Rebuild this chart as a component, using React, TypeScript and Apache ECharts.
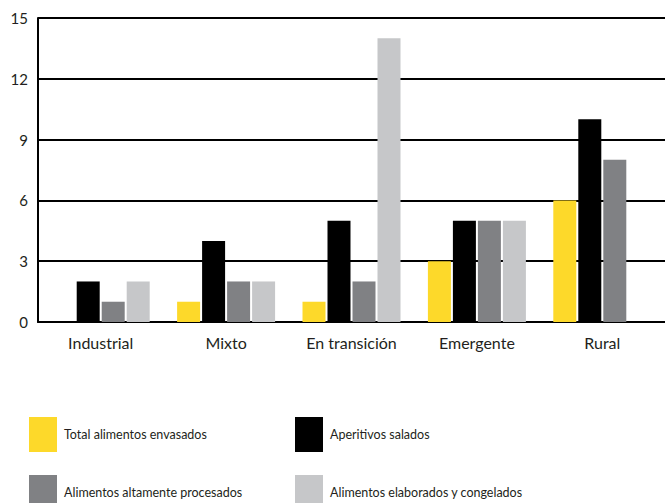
import React, { useEffect, useRef } from "react";
import * as echarts from "echarts";

const categories = ["Industrial", "Mixto", "En transición", "Emergente", "Rural"];
const seriesNames = [
  "Total alimentos envasados",
  "Aperitivos salados",
  "Alimentos altamente procesados",
  "Alimentos elaborados y congelados",
];
const envasados = [0, 1, 1, 3, 6];
const aperitivos = [2, 4, 5, 5, 10];
const procesados = [1, 2, 2, 5, 8];
const congelados = [2, 2, 14, 5, 0];
const colors = ["#FDD92A", "#000000", "#808184", "#C6C7C9"];
const yTicks = { min: 0, max: 15, interval: 3 };

export default function App() {
  const ref = useRef<HTMLDivElement>(null);
  useEffect(() => {
    if (!ref.current) return;
    const chart = echarts.init(ref.current, null, { renderer: "svg" });
    const font = "Lato, 'Open Sans', sans-serif";
    const values = [envasados, aperitivos, procesados, congelados];
    const legendPos = [
      { left: 29, top: 417 },
      { left: 295, top: 417 },
      { left: 29, top: 475 },
      { left: 295, top: 475 },
    ];
    chart.setOption({
      animation: false,
      textStyle: { fontFamily: font },
      grid: { left: 38, right: 0, top: 18, bottom: 181 },
      xAxis: {
        type: "category",
        data: categories,
        axisLine: { lineStyle: { color: "#000", width: 2 } },
        axisTick: { show: false },
        axisLabel: { color: "#231f20", fontSize: 16, margin: 12, fontFamily: font },
      },
      yAxis: {
        type: "value",
        min: yTicks.min,
        max: yTicks.max,
        interval: yTicks.interval,
        axisLine: { show: true, lineStyle: { color: "#000", width: 2 } },
        axisTick: { show: false },
        splitLine: { lineStyle: { color: "#000", width: 2 } },
        axisLabel: { color: "#231f20", fontSize: 15, margin: 10, fontFamily: font },
      },
      legend: seriesNames.map((name, i) => ({
        left: legendPos[i].left,
        top: legendPos[i].top,
        padding: 0,
        itemWidth: 28,
        itemHeight: 35,
        itemGap: 0,
        icon: "rect",
        data: [name],
        textStyle: { color: "#231f20", fontSize: 12.5, fontFamily: font, padding: [0, 0, 0, 2] },
        selectedMode: false,
      })),
      series: seriesNames.map((name, i) => ({
        name,
        type: "bar",
        data: values[i],
        barWidth: 23,
        barGap: "8.7%",
        itemStyle: { color: colors[i] },
      })),
    });
    return () => chart.dispose();
  }, []);
  return <div ref={ref} style={{ width: 665, height: 503, position: "absolute", left: 0, top: 0 }} />;
}
